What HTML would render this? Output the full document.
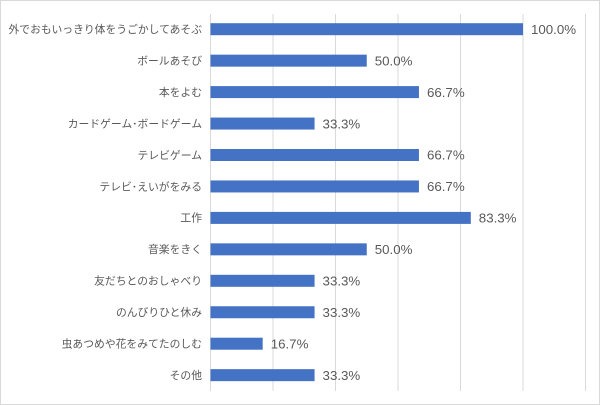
<!DOCTYPE html>
<html><head><meta charset="utf-8"><style>
html,body{margin:0;padding:0;background:#fff;}
</style></head><body>
<svg width="600" height="405" xmlns="http://www.w3.org/2000/svg" style="display:block;font-family:'Liberation Sans','Noto Sans CJK JP',sans-serif;">
<rect x="0.5" y="0.5" width="599" height="404" fill="#fff" stroke="#d9d9d9"/>
<g stroke="#d9d9d9" stroke-width="1">
<line x1="210.5" y1="14" x2="210.5" y2="391"/>
<line x1="273" y1="14" x2="273" y2="391"/>
<line x1="335.5" y1="14" x2="335.5" y2="391"/>
<line x1="398" y1="14" x2="398" y2="391"/>
<line x1="460.5" y1="14" x2="460.5" y2="391"/>
<line x1="523" y1="14" x2="523" y2="391"/>
<line x1="585.5" y1="14" x2="585.5" y2="391"/>
</g>
<g fill="#4472c4">
<rect x="210.5" y="23.2" width="312.5" height="12"/>
<rect x="210.5" y="54.65" width="156.25" height="12"/>
<rect x="210.5" y="86.1" width="208.44" height="12"/>
<rect x="210.5" y="117.55" width="104.06" height="12"/>
<rect x="210.5" y="149" width="208.44" height="12"/>
<rect x="210.5" y="180.45" width="208.44" height="12"/>
<rect x="210.5" y="211.9" width="260.31" height="12"/>
<rect x="210.5" y="243.35" width="156.25" height="12"/>
<rect x="210.5" y="274.8" width="104.06" height="12"/>
<rect x="210.5" y="306.25" width="104.06" height="12"/>
<rect x="210.5" y="337.7" width="52.19" height="12"/>
<rect x="210.5" y="369.15" width="104.06" height="12"/>
</g>
<g fill="#595959" font-size="10.8" text-anchor="end">
<text x="202" y="33">外でおもいっきり体をうごかしてあそぶ</text>
<text x="202" y="64.45">ボールあそび</text>
<text x="202" y="95.9">本をよむ</text>
<text x="202" y="127.35">カードゲーム･ボードゲーム</text>
<text x="202" y="158.8">テレビゲーム</text>
<text x="202" y="190.25">テレビ･えいがをみる</text>
<text x="202" y="221.7">工作</text>
<text x="202" y="253.15">音楽をきく</text>
<text x="202" y="284.6">友だちとのおしゃべり</text>
<text x="202" y="316.05">のんびりひと休み</text>
<text x="202" y="347.5">虫あつめや花をみてたのしむ</text>
<text x="202" y="378.95">その他</text>
</g>
<g fill="#595959" font-size="13.3">
<text x="531" y="33.9">100.0%</text>
<text x="374.75" y="65.35">50.0%</text>
<text x="426.94" y="96.8">66.7%</text>
<text x="322.56" y="128.25">33.3%</text>
<text x="426.94" y="159.7">66.7%</text>
<text x="426.94" y="191.15">66.7%</text>
<text x="478.81" y="222.6">83.3%</text>
<text x="374.75" y="254.05">50.0%</text>
<text x="322.56" y="285.5">33.3%</text>
<text x="322.56" y="316.95">33.3%</text>
<text x="270.69" y="348.4">16.7%</text>
<text x="322.56" y="379.85">33.3%</text>
</g>
</svg>
</body></html>
